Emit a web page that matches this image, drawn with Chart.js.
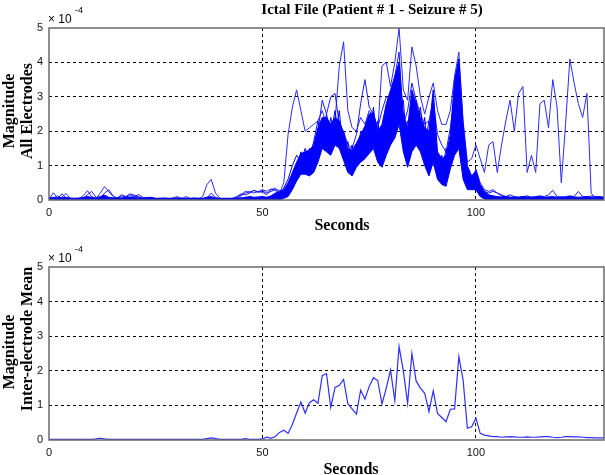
<!DOCTYPE html>
<html>
<head>
<meta charset="utf-8">
<script src="https://cdn.jsdelivr.net/npm/chart.js@4.4.1/dist/chart.umd.min.js"></script>
<style>
  body { margin: 0; background: #fff; }
  #wrap { position: relative; width: 605px; height: 475px; }
  canvas { position: absolute; left: 0; }
  #top { top: 0; }
  #bottom { top: 238px; }
</style>
</head>
<body>
<div id="wrap">
  <canvas id="top" width="605" height="238"></canvas>
  <canvas id="bottom" width="605" height="237"></canvas>
</div>
<script>
// time axis (seconds, one sample per second)
var seconds = [
  0,1,2,3,4,5,6,7,8,9,10,11,12,13,14,15,16,17,18,19,
  20,21,22,23,24,25,26,27,28,29,30,31,32,33,34,35,36,37,38,39,
  40,41,42,43,44,45,46,47,48,49,50,51,52,53,54,55,56,57,58,59,
  60,61,62,63,64,65,66,67,68,69,70,71,72,73,74,75,76,77,78,79,
  80,81,82,83,84,85,86,87,88,89,90,91,92,93,94,95,96,97,98,99,
  100,101,102,103,104,105,106,107,108,109,110,111,112,113,114,115,116,117,118,119,
  120,121,122,123,124,125,126,127,128,129,130
];
var xTicks = [0, 50, 100];
var yTicks = [0, 1, 2, 3, 4, 5];

// top plot: all electrodes (x 1e-4)
// bulk of electrodes: lower and upper edge of the dense band
var bandLow = [
  0,0,0,0,0,0,0,0,0,0,
  0,0,0,0,0,0,0,0,0,0,
  0,0,0,0,0,0,0,0,0,0,
  0,0,0,0,0,0,0,0,0,0,
  0,0,0,0,0,0,0,0,0,0,
  0,0,0,0,0,0.05,0.1,0.3,0.55,0.75,
  0.75,0.7,0.8,1.1,1.5,1.4,1.3,1.6,1.5,1.15,
  0.8,0.7,0.95,1.1,1.2,1.35,1.5,1.1,0.95,1.3,
  1.6,1.8,2.2,1.4,0.95,1.4,1.6,1.4,1.0,0.7,
  1.1,0.6,0.45,0.4,0.9,1.3,1.5,0.6,0.3,0.3,
  0.3,0.1,0.03,0,0,0,0,0,0,0,
  0,0,0,0,0,0,0,0,0,0,
  0,0,0,0,0,0,0,0,0,0,
  0
];
var bandHigh = [
  0.06,0.08,0.06,0.07,0.08,0.06,0.05,0.06,0.07,0.1,
  0.08,0.06,0.1,0.14,0.08,0.06,0.07,0.06,0.08,0.09,
  0.07,0.06,0.05,0.06,0.08,0.05,0.05,0.06,0.05,0.05,
  0.06,0.05,0.05,0.05,0.06,0.05,0.05,0.08,0.1,0.06,
  0.05,0.05,0.05,0.05,0.05,0.06,0.08,0.1,0.08,0.09,
  0.1,0.08,0.12,0.2,0.25,0.3,0.5,0.8,1.1,1.35,
  1.4,1.45,1.6,2.1,2.4,2.4,2.2,2.4,2.3,1.95,
  1.5,1.45,1.65,1.9,2.15,2.5,2.55,2.0,2.2,2.8,
  3.2,3.6,4.0,2.5,2.1,3.2,2.8,2.4,2.1,2.0,
  3.2,1.4,1.2,1.3,1.9,3.5,4.1,2.2,1.0,0.7,
  0.85,0.45,0.25,0.15,0.12,0.1,0.09,0.1,0.08,0.09,
  0.08,0.1,0.09,0.08,0.09,0.1,0.08,0.09,0.1,0.08,
  0.09,0.08,0.1,0.09,0.08,0.09,0.1,0.08,0.09,0.1,
  0.08
];
// electrode that stays high after the seizure
var elecA = [
  0.02,0.21,0.06,0.08,0.19,0.04,0.02,0.03,0.12,0.27,
  0.1,0.04,0.2,0.39,0.24,0.1,0.05,0.12,0.08,0.15,
  0.1,0.16,0.08,0.05,0.04,0.03,0.05,0.04,0.03,0.06,
  0.1,0.04,0.03,0.04,0.05,0.03,0.1,0.45,0.6,0.2,
  0.05,0.03,0.04,0.04,0.05,0.12,0.2,0.25,0.2,0.25,
  0.22,0.15,0.3,0.35,0.2,0.5,1.9,2.7,3.2,2.6,
  2.0,2.1,2.2,2.3,2.6,2.2,2.0,2.3,3.9,4.6,
  2.6,2.1,2.0,2.4,2.2,2.6,2.4,2.0,3.9,4.0,
  3.3,4.0,5.0,3.2,2.9,4.45,3.9,3.0,2.5,3.0,
  3.4,2.6,2.2,2.2,2.6,3.6,4.3,2.3,1.1,1.2,
  1.6,1.2,0.8,1.6,1.7,0.8,1.6,2.3,2.9,2.0,
  3.1,3.3,0.8,1.3,0.8,2.8,2.9,2.1,3.5,2.7,
  0.5,2.2,4.1,3.4,2.8,2.4,3.1,0.2,0.05,0.05,
  0.04
];
var elecB = [
  0.03,0.05,0.12,0.04,0.03,0.02,0.04,0.03,0.05,0.15,
  0.25,0.08,0.05,0.2,0.3,0.12,0.04,0.05,0.1,0.06,
  0.12,0.08,0.04,0.03,0.05,0.04,0.03,0.02,0.04,0.03,
  0.04,0.06,0.03,0.02,0.04,0.05,0.03,0.06,0.2,0.08,
  0.03,0.04,0.03,0.05,0.1,0.18,0.15,0.2,0.28,0.22,
  0.26,0.2,0.25,0.3,0.28,0.2,0.3,0.6,0.9,1.2,
  1.1,1.3,1.5,2.0,2.9,2.5,3.0,3.1,2.2,2.0,
  1.6,1.5,1.9,2.8,3.5,2.7,2.5,2.1,2.6,3.0,
  2.9,3.6,4.3,2.2,2.6,3.4,2.9,2.5,2.2,2.3,
  2.9,1.9,1.6,1.4,2.1,3.0,3.6,1.5,0.6,0.5,
  0.9,0.5,0.3,0.25,0.3,0.2,0.15,0.1,0.08,0.06,
  0.05,0.06,0.05,0.05,0.06,0.05,0.07,0.08,0.05,0.05,
  0.05,0.06,0.05,0.05,0.05,0.06,0.05,0.04,0.05,0.05,
  0.05
];
var elecD = [
  0.02,0.04,0.03,0.18,0.06,0.03,0.02,0.04,0.02,0.03,
  0.04,0.03,0.05,0.1,0.05,0.03,0.06,0.15,0.1,0.18,
  0.14,0.1,0.05,0.08,0.04,0.03,0.02,0.03,0.02,0.04,
  0.03,0.02,0.1,0.05,0.03,0.02,0.03,0.04,0.08,0.03,
  0.02,0.03,0.02,0.04,0.08,0.15,0.25,0.22,0.28,0.24,
  0.3,0.25,0.32,0.28,0.15,0.1,0.2,0.45,0.7,1.0,
  0.9,1.0,1.3,1.7,1.9,1.7,1.5,1.9,1.8,1.4,
  1.0,0.9,1.2,1.5,1.7,2.0,2.1,1.5,1.4,2.2,
  2.6,2.9,3.5,1.9,1.5,2.6,2.2,2.0,1.5,1.3,
  2.4,1.0,0.8,0.9,1.4,2.5,3.0,1.2,0.5,0.4,
  0.7,0.3,0.25,0.2,0.25,0.2,0.12,0.1,0.15,0.1,
  0.08,0.1,0.12,0.08,0.1,0.12,0.1,0.15,0.28,0.1,
  0.08,0.1,0.12,0.1,0.25,0.1,0.08,0.12,0.1,0.08,
  0.06
];
// two electrodes inside the dense band
var elecE = [
  0.03,0.02,0.04,0.03,0.02,0.03,0.04,0.02,0.03,0.05,
  0.04,0.03,0.06,0.08,0.04,0.03,0.02,0.03,0.05,0.04,
  0.03,0.04,0.02,0.03,0.02,0.03,0.04,0.02,0.03,0.02,
  0.03,0.02,0.03,0.04,0.02,0.03,0.02,0.05,0.06,0.03,
  0.02,0.03,0.02,0.03,0.04,0.05,0.06,0.08,0.05,0.06,
  0.05,0.04,0.08,0.15,0.2,0.35,0.6,1.0,1.3,1.1,
  1.5,1.2,1.7,2.3,1.8,2.5,1.9,2.6,1.7,2.0,
  1.2,1.6,1.1,2.0,1.5,2.4,1.8,2.3,1.2,2.5,
  2.0,3.2,2.6,2.9,1.3,2.6,1.9,2.7,1.5,2.3,
  1.5,1.2,0.7,1.5,1.1,2.2,3.4,1.6,0.8,0.5,
  0.6,0.3,0.15,0.1,0.06,0.05,0.04,0.05,0.04,0.03,
  0.04,0.05,0.03,0.04,0.05,0.04,0.03,0.04,0.05,0.04,
  0.03,0.04,0.05,0.04,0.03,0.04,0.05,0.03,0.04,0.03,
  0.03
];
var elecF = [
  0.02,0.03,0.02,0.04,0.03,0.02,0.03,0.04,0.02,0.03,
  0.05,0.04,0.03,0.05,0.06,0.04,0.03,0.04,0.03,0.05,
  0.04,0.03,0.02,0.04,0.03,0.02,0.03,0.02,0.04,0.03,
  0.02,0.03,0.04,0.02,0.03,0.02,0.03,0.04,0.05,0.03,
  0.03,0.02,0.04,0.03,0.02,0.04,0.05,0.06,0.04,0.05,
  0.02,0.05,0.03,0.1,0.12,0.2,0.4,0.7,0.9,1.4,
  1.0,1.5,1.1,1.5,2.2,1.7,2.4,1.8,2.6,1.3,
  1.7,1.0,1.5,1.3,2.0,1.6,2.7,1.4,2.0,1.6,
  2.8,2.2,3.6,1.7,2.3,1.8,2.9,1.6,2.4,1.1,
  2.0,0.8,1.3,0.6,1.6,2.8,2.6,1.2,0.9,0.4,
  0.5,0.35,0.2,0.12,0.08,0.06,0.05,0.04,0.05,0.04,
  0.03,0.04,0.05,0.03,0.04,0.05,0.04,0.03,0.04,0.05,
  0.04,0.03,0.04,0.05,0.04,0.03,0.04,0.03,0.04,0.05,
  0.04
];

// bottom plot: inter-electrode mean (x 1e-4)
var meanAll = [
  0.02,0.02,0.02,0.02,0.02,0.02,0.02,0.02,0.02,0.02,
  0.02,0.03,0.05,0.03,0.02,0.02,0.02,0.02,0.02,0.02,
  0.02,0.02,0.02,0.02,0.02,0.02,0.02,0.02,0.02,0.02,
  0.02,0.02,0.02,0.02,0.02,0.02,0.02,0.04,0.06,0.04,
  0.02,0.02,0.02,0.02,0.02,0.02,0.04,0.02,0.02,0.02,
  0.03,0.08,0.05,0.1,0.22,0.28,0.19,0.45,0.78,1.1,
  0.78,1.08,1.16,1.06,1.86,1.92,0.94,1.52,1.58,1.75,
  1.05,0.9,0.75,1.44,1.18,1.55,1.8,1.72,1.04,1.5,
  2.02,1.14,2.7,2.0,1.06,2.5,1.7,1.5,1.35,0.82,
  1.42,0.77,0.65,0.53,0.89,0.9,2.41,1.73,0.34,0.38,
  0.63,0.19,0.14,0.12,0.1,0.1,0.08,0.09,0.1,0.09,
  0.08,0.08,0.09,0.08,0.08,0.09,0.1,0.1,0.08,0.07,
  0.08,0.1,0.1,0.09,0.09,0.08,0.07,0.07,0.06,0.06,
  0.06
];

function toPoints(vals) {
  return seconds.map(function (t, i) { return { x: t, y: vals[i] }; });
}

var SERIF = "'Liberation Serif', 'Times New Roman', serif";
var SANS = "'Liberation Sans', Arial, sans-serif";

// box around the axes, MATLAB style
var boxPlugin = {
  id: "boxPlugin",
  afterDatasetsDraw: function (chart) {
    var a = chart.chartArea, ctx = chart.ctx;
    ctx.save();
    ctx.strokeStyle = "#6a6a6a";
    ctx.lineWidth = 1.5;
    ctx.strokeRect(a.left, a.top, a.right - a.left, a.bottom - a.top);
    ctx.restore();
  }
};

// free text: title, axis labels, exponent
var textPlugin = {
  id: "textPlugin",
  afterDraw: function (chart, args, opts) {
    var ctx = chart.ctx;
    (opts.items || []).forEach(function (it) {
      ctx.save();
      ctx.font = it.font;
      ctx.fillStyle = "#000";
      ctx.textAlign = it.align || "center";
      ctx.textBaseline = "alphabetic";
      ctx.translate(it.x, it.y);
      if (it.rotate) ctx.rotate(-Math.PI / 2);
      ctx.fillText(it.text, 0, 0);
      ctx.restore();
    });
  }
};

function makeOptions(padTop, xHeight, texts) {
  return {
    responsive: false,
    animation: false,
    devicePixelRatio: 1,
    layout: { padding: { top: padTop, right: 1, left: 0, bottom: 0 } },
    plugins: {
      legend: { display: false },
      tooltip: { enabled: false },
      textPlugin: { items: texts }
    },
    elements: { point: { radius: 0 }, line: { tension: 0 } },
    scales: {
      x: {
        type: "linear",
        min: 0,
        max: 130,
        afterFit: function (s) { s.height = xHeight; },
        afterBuildTicks: function (s) {
          s.ticks = xTicks.map(function (v) { return { value: v }; });
        },
        ticks: { padding: 6, color: "#111", font: { family: SANS, size: 11 } },
        grid: {
          drawTicks: false,
          color: function (c) { return c.tick && c.tick.value === 0 ? "rgba(0,0,0,0)" : "#000"; }
        },
        border: { display: false, dash: [3, 3] }
      },
      y: {
        min: 0,
        max: 5,
        afterFit: function (s) { s.width = 49; },
        afterBuildTicks: function (s) {
          s.ticks = yTicks.map(function (v) { return { value: v }; });
        },
        ticks: { padding: 6, color: "#111", font: { family: SANS, size: 11 } },
        grid: {
          drawTicks: false,
          color: function (c) {
            var v = c.tick && c.tick.value;
            return v === 0 || v === 5 ? "rgba(0,0,0,0)" : "#000";
          }
        },
        border: { display: false, dash: [3, 3] }
      }
    }
  };
}

function lineSet(vals, color, width) {
  return {
    data: toPoints(vals),
    borderColor: color,
    borderWidth: width,
    pointRadius: 0,
    fill: false
  };
}

var topTexts = [
  { text: "Ictal File (Patient # 1 - Seizure # 5)", x: 372, y: 14, font: "bold 15px " + SERIF },
  { text: "Seconds", x: 342, y: 230, font: "bold 16px " + SERIF },
  { text: "Magnitude", x: 14, y: 111, rotate: true, font: "bold 16px " + SERIF },
  { text: "All Electrodes", x: 32, y: 111, rotate: true, font: "bold 16px " + SERIF },
  { text: "\u00d7 10", x: 48, y: 23, align: "left", font: "12px " + SANS },
  { text: "-4", x: 75, y: 13, align: "left", font: "9px " + SANS }
];

var bandLowSet = lineSet(bandLow, "#0000ff", 1);
var bandHighSet = lineSet(bandHigh, "#0000ff", 1);
bandHighSet.fill = "-1";
bandHighSet.backgroundColor = "#0000ff";

new Chart(document.getElementById("top"), {
  type: "line",
  data: {
    datasets: [
      bandLowSet,
      bandHighSet,
      lineSet(elecE, "#0000ff", 1),
      lineSet(elecF, "#0000ff", 1),
      lineSet(elecD, "#1a1aff", 1),
      lineSet(elecB, "#1a1aff", 1),
      lineSet(elecA, "#2a2aff", 1)
    ]
  },
  options: makeOptions(28, 38, topTexts),
  plugins: [boxPlugin, textPlugin]
});

var bottomTexts = [
  { text: "Seconds", x: 351, y: 236, font: "bold 16px " + SERIF },
  { text: "Magnitude", x: 14, y: 114, rotate: true, font: "bold 16px " + SERIF },
  { text: "Inter-electrode Mean", x: 32, y: 101, rotate: true, font: "bold 16px " + SERIF },
  { text: "\u00d7 10", x: 48, y: 24, align: "left", font: "12px " + SANS },
  { text: "-4", x: 75, y: 14, align: "left", font: "9px " + SANS }
];

new Chart(document.getElementById("bottom"), {
  type: "line",
  data: {
    datasets: [lineSet(meanAll, "#2f2fff", 1.2)]
  },
  options: makeOptions(29, 35, bottomTexts),
  plugins: [boxPlugin, textPlugin]
});
</script>
</body>
</html>
